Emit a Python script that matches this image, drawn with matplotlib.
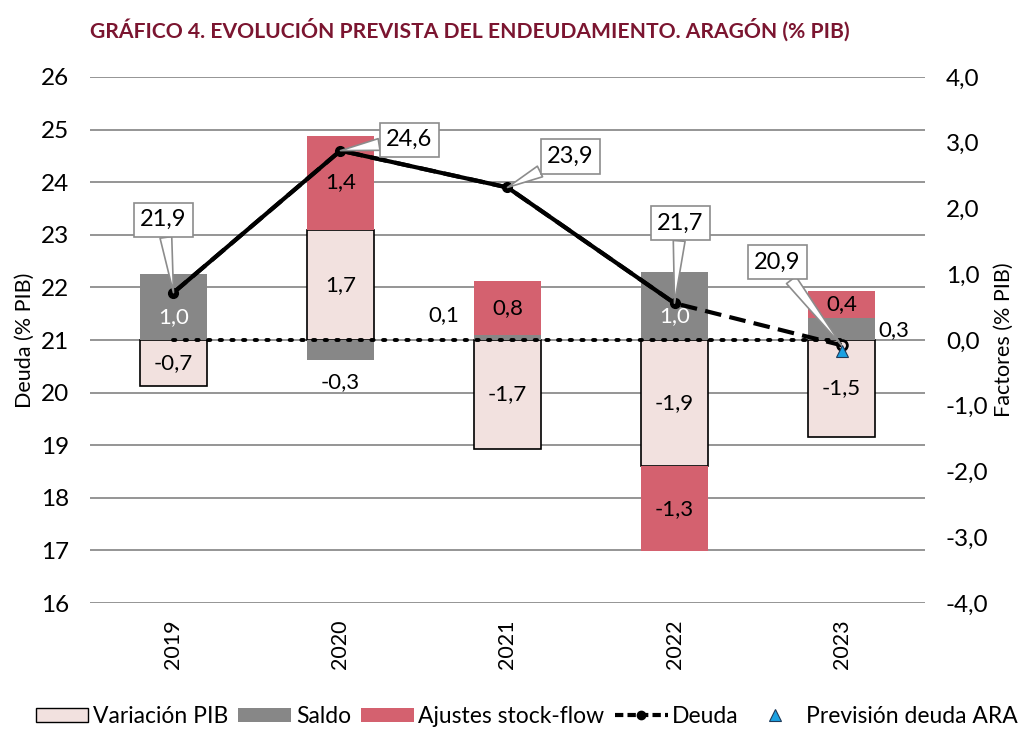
import numpy as np
import matplotlib
matplotlib.use("Agg")
import matplotlib.pyplot as plt
from matplotlib.patches import Patch
from matplotlib.lines import Line2D
from matplotlib.transforms import blended_transform_factory

plt.rcParams['font.family'] = ['Lato', 'DejaVu Sans']

# datos
anios = ['2019', '2020', '2021', '2022', '2023']
variacion_pib = [-0.7, 1.68, -1.66, -1.92, -1.47]
saldo = [1.0, -0.31, 0.08, 1.03, 0.34]
ajustes = [0.0, 1.43, 0.81, -1.29, 0.41]
deuda = [21.9, 24.6, 23.9, 21.7, 20.9]
prevision_ara = [np.nan, np.nan, np.nan, np.nan, 20.8]
cero = [0, 0, 0, 0, 0]

c_pib = '#F2E1DF'
c_saldo = '#878787'
c_ajustes = '#D4616F'
c_tit = '#7B1530'

fig = plt.figure(figsize=(10.27, 7.29), dpi=100)
axf = fig.add_axes([0.0876, 0.1728, 0.8131, 0.7216])   # factores (barras)
axd = axf.twinx()                                        # deuda (linea)

x = np.arange(len(anios))
w = 0.4

# barras apiladas (positivos y negativos por separado)
pos = np.zeros(len(x))
neg = np.zeros(len(x))
series = [(variacion_pib, c_pib, 'k'), (saldo, c_saldo, c_saldo), (ajustes, c_ajustes, c_ajustes)]
bases = []
for vals, fc, ec in series:
    vals = np.array(vals)
    bottom = np.where(vals >= 0, pos, neg)
    axf.bar(x, vals, w, bottom=bottom, color=fc, edgecolor=ec,
            linewidth=1.2 if ec == 'k' else 0, zorder=2)
    bases.append(bottom.copy())
    pos = pos + np.where(vals >= 0, vals, 0)
    neg = neg + np.where(vals < 0, vals, 0)

def fmt(v):
    return f"{v:.1f}".replace('.', ',')

# etiquetas de las barras
for i in x:
    axf.text(i, bases[0][i] + variacion_pib[i] / 2, fmt(variacion_pib[i]),
             ha='center', va='center', fontsize=16, zorder=4)
    if ajustes[i] != 0:
        axf.text(i, bases[2][i] + ajustes[i] / 2, fmt(ajustes[i]),
                 ha='center', va='center', fontsize=16, zorder=4)

saldo_pos = {0: ('in', 0, 0), 1: ('out', 0, -32), 2: ('out', -64, 22),
             3: ('in', 0, 0), 4: ('out', 52, -1)}
for i in x:
    modo, dx, dy = saldo_pos[i]
    yc = bases[1][i] + saldo[i] / 2
    if modo == 'in':
        axf.text(i, yc - 0.15, fmt(saldo[i]), ha='center', va='center',
                 fontsize=16, color='white', zorder=4)
    else:
        axf.annotate(fmt(saldo[i]), (i, yc), xytext=(dx, dy), textcoords='offset pixels',
                     ha='center', va='center', fontsize=16, zorder=4)

axf.plot(x, cero, color='k', linestyle=(0, (0.6, 2.4)), linewidth=2.8,
         dash_capstyle='round', zorder=3)

# deuda
axd.plot(x, deuda, color='k', linestyle=(0, (4, 2)), linewidth=3, zorder=3)
axd.plot(x[:4], deuda[:4], color='k', linewidth=3, marker='o', markersize=7, zorder=4)
axd.plot(x[4:], deuda[4:], color='k', linestyle='none', marker='o', markersize=7,
         markerfacecolor='none', markeredgewidth=2, zorder=4)
axd.plot(x, prevision_ara, linestyle='none', marker='^', markersize=9,
         color='#1BA1E2', markeredgecolor='#1F3A5A', markeredgewidth=0.8, zorder=5)

offsets = [(-10, 73), (69, 11), (63, 31), (6, 80), (-64, 83)]
for i in x:
    axd.annotate(fmt(deuda[i]), (i, deuda[i]), xytext=offsets[i], textcoords='offset pixels',
                 ha='center', va='center', fontsize=17, zorder=6,
                 bbox=dict(boxstyle='square,pad=0.28', fc='white', ec='#8c8c8c', lw=1.2),
                 arrowprops=dict(arrowstyle='wedge,tail_width=0.5,shrink_factor=0.5',
                                 fc='white', ec='#8c8c8c', lw=1.2, shrinkA=0, shrinkB=0))

# ejes
axf.set_xlim(-0.5, 4.5)
axf.set_ylim(-4, 4)
axd.set_ylim(16, 26)
axd.set_yticks(range(16, 27))
axf.set_yticks(np.arange(-4, 4.1, 1))
axf.set_yticklabels([fmt(v) for v in np.arange(-4, 4.1, 1)])
axf.yaxis.tick_right()
axf.yaxis.set_label_position('right')
axd.yaxis.tick_left()
axd.yaxis.set_label_position('left')
axf.set_xticks(x)
axf.set_xticklabels(anios, rotation=90, fontsize=15.5)
axf.tick_params(axis='x', length=0, pad=12)
axf.tick_params(axis='y', length=0, pad=15, labelsize=17.5)
axd.tick_params(axis='y', length=0, pad=15, labelsize=17.5)
axd.set_ylabel('Deuda (% PIB)', fontsize=15.5, labelpad=4)
axf.set_ylabel('Factores (% PIB)', fontsize=15.5, rotation=90, labelpad=4)
for a in (axf, axd):
    for s in a.spines.values():
        s.set_visible(False)

# lineas de division (de la escala de deuda) detras de las barras
tr = blended_transform_factory(axf.transAxes, axd.transData)
for v in range(16, 27):
    axf.plot([0, 1], [v, v], transform=tr, color='#8c8c8c', linewidth=1.3, zorder=1)

fig.text(0.4577, 0.959, 'GRÁFICO 4. EVOLUCIÓN PREVISTA DEL ENDEUDAMIENTO. ARAGÓN (% PIB)',
         ha='center', va='center', fontsize=15.2, fontweight='bold', color=c_tit)

handles = [Patch(facecolor=c_pib, edgecolor='k', linewidth=1),
           Patch(facecolor=c_saldo),
           Patch(facecolor=c_ajustes),
           Line2D([], [], color='k', linestyle=(0, (2, 1)), linewidth=3, marker='o', markersize=6),
           Line2D([], [], linestyle='none', marker='^', markersize=8, color='#1BA1E2',
                  markeredgecolor='#1F3A5A', markeredgewidth=0.8)]
labels = ['Variación PIB', 'Saldo', 'Ajustes stock-flow', 'Deuda', 'Previsión deuda ARA']
fig.legend(handles, labels, loc='center', bbox_to_anchor=(0.513, 0.017), ncol=5,
           frameon=False, fontsize=16.5, handlelength=2.3, handleheight=0.6,
           handletextpad=0.2, columnspacing=0.45)

fig.savefig('out.png', dpi=100)
